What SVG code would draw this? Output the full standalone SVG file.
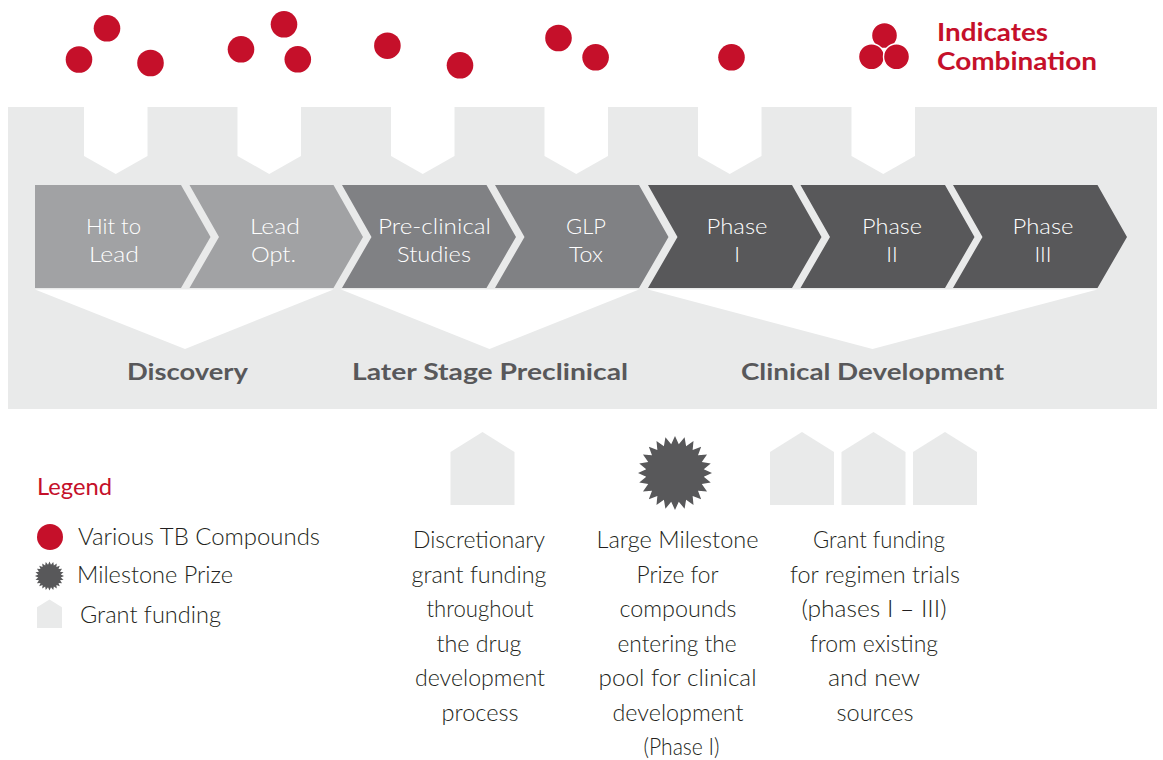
<svg xmlns="http://www.w3.org/2000/svg" xmlns:xlink="http://www.w3.org/1999/xlink" width="1163" height="760" viewBox="0 0 1163 760">
<style>
.band{fill:#e9eaea}
.wh{fill:#ffffff}
.red{fill:#c5102a}
.c1{fill:#a1a2a4}
.c2{fill:#808184}
.c3{fill:#58585a}
.star{fill:#58585a}
.house{fill:#e9eaea}
.cl{font-family:Lato,"Liberation Sans",sans-serif;font-weight:300;font-size:22px;fill:#ffffff;text-anchor:middle}
.st{font-family:Lato,"Liberation Sans",sans-serif;font-weight:700;font-size:23px;fill:#58585a;text-anchor:middle}
.ind{font-family:Lato,"Liberation Sans",sans-serif;font-weight:700;font-size:25px;fill:#c5102a}
.lg{font-family:Lato,"Liberation Sans",sans-serif;font-weight:300;font-size:24px;fill:#231f20}
.lgh{font-family:Lato,"Liberation Sans",sans-serif;font-weight:400;font-size:24px;fill:#c5102a}
.bd{font-family:Lato,"Liberation Sans",sans-serif;font-weight:300;font-size:23px;fill:#231f20;text-anchor:middle}
</style>
<defs>
<polygon id="starShape" points="37,0 28.75,3.79 35.74,9.58 26.79,11.1 32.04,18.5 23.01,17.65 26.16,26.16 17.65,23.01 18.5,32.04 11.1,26.79 9.58,35.74 3.79,28.75 0,37 -3.79,28.75 -9.58,35.74 -11.1,26.79 -18.5,32.04 -17.65,23.01 -26.16,26.16 -23.01,17.65 -32.04,18.5 -26.79,11.1 -35.74,9.58 -28.75,3.79 -37,0 -28.75,-3.79 -35.74,-9.58 -26.79,-11.1 -32.04,-18.5 -23.01,-17.65 -26.16,-26.16 -17.65,-23.01 -18.5,-32.04 -11.1,-26.79 -9.58,-35.74 -3.79,-28.75 0,-37 3.79,-28.75 9.58,-35.74 11.1,-26.79 18.5,-32.04 17.65,-23.01 26.16,-26.16 23.01,-17.65 32.04,-18.5 26.79,-11.1 35.74,-9.58 28.75,-3.79"/>
<polygon id="houseShape" points="0,20 32,0 64,20 64,73 0,73"/>
<polygon id="notchShape" points="0,0 63.5,0 63.5,49 31.75,67 0,49"/>
</defs>

<g id="background">
<rect class="band" x="8" y="107" width="1149" height="302"/>
<use href="#notchShape" class="wh" x="84" y="107"/>
<use href="#notchShape" class="wh" x="237.5" y="107"/>
<use href="#notchShape" class="wh" x="391" y="107"/>
<use href="#notchShape" class="wh" x="544.5" y="107"/>
<use href="#notchShape" class="wh" x="698" y="107"/>
<use href="#notchShape" class="wh" x="851.5" y="107"/>
</g>

<g id="connectors">
<polygon class="wh" points="35,289.5 333.5,289.5 185,349"/>
<polygon class="wh" points="341,289.5 639,289.5 489.5,349"/>
<polygon class="wh" points="648,289.5 1097.5,289.5 872.5,349"/>
</g>

<g id="compounds">
<circle class="red" cx="79" cy="59.5" r="13.3"/>
<circle class="red" cx="107" cy="28.3" r="13.3"/>
<circle class="red" cx="150.5" cy="63" r="13.3"/>
<circle class="red" cx="241" cy="49.3" r="13.3"/>
<circle class="red" cx="284" cy="24.3" r="13.3"/>
<circle class="red" cx="297.8" cy="59.3" r="13.3"/>
<circle class="red" cx="387.4" cy="45.7" r="13.3"/>
<circle class="red" cx="460" cy="65.3" r="13.3"/>
<circle class="red" cx="558.5" cy="38" r="13.3"/>
<circle class="red" cx="595.6" cy="57.3" r="13.3"/>
<circle class="red" cx="731.5" cy="57.3" r="13.3"/>
</g>

<g id="combination">
<circle class="red" cx="884.5" cy="35.5" r="13" stroke="#ffffff" stroke-width="1.4"/>
<circle class="red" cx="871.5" cy="56.7" r="13" stroke="#ffffff" stroke-width="1.4"/>
<circle class="red" cx="896.5" cy="56.7" r="13" stroke="#ffffff" stroke-width="1.4"/>
<text class="ind" x="937" y="41" textLength="111" lengthAdjust="spacingAndGlyphs">Indicates</text>
<text class="ind" x="937" y="70" textLength="160" lengthAdjust="spacingAndGlyphs">Combination</text>
</g>

<g id="chevron-hit-to-lead">
<polygon class="c1" points="35,185 181,185 210.5,237 181,288 35,288"/>
<text class="cl" x="113.5" y="234" textLength="55" lengthAdjust="spacingAndGlyphs">Hit to</text>
<text class="cl" x="114" y="262" textLength="50" lengthAdjust="spacingAndGlyphs">Lead</text>
</g>
<g id="chevron-lead-opt">
<polygon class="c1" points="189.5,185 333.5,185 363,237 333.5,288 189.5,288 219,237"/>
<text class="cl" x="275" y="234" textLength="50" lengthAdjust="spacingAndGlyphs">Lead</text>
<text class="cl" x="273.5" y="262" textLength="45" lengthAdjust="spacingAndGlyphs">Opt.</text>
</g>
<g id="chevron-preclinical">
<polygon class="c2" points="342,185 486.5,185 516,237 486.5,288 342,288 371.5,237"/>
<text class="cl" x="434.5" y="234" textLength="113" lengthAdjust="spacingAndGlyphs">Pre-clinical</text>
<text class="cl" x="434" y="262" textLength="74" lengthAdjust="spacingAndGlyphs">Studies</text>
</g>
<g id="chevron-glp-tox">
<polygon class="c2" points="495,185 639,185 668.5,237 639,288 495,288 524.5,237"/>
<text class="cl" x="586" y="234" textLength="40" lengthAdjust="spacingAndGlyphs">GLP</text>
<text class="cl" x="586" y="262" textLength="34" lengthAdjust="spacingAndGlyphs">Tox</text>
</g>
<g id="chevron-phase-1">
<polygon class="c3" points="648,185 792,185 821.5,237 792,288 648,288 677.5,237"/>
<text class="cl" x="737" y="234" textLength="61" lengthAdjust="spacingAndGlyphs">Phase</text>
<text class="cl" x="737" y="262">I</text>
</g>
<g id="chevron-phase-2">
<polygon class="c3" points="800.5,185 945,185 974.5,237 945,288 800.5,288 830,237"/>
<text class="cl" x="892" y="234" textLength="60" lengthAdjust="spacingAndGlyphs">Phase</text>
<text class="cl" x="892" y="262">II</text>
</g>
<g id="chevron-phase-3">
<polygon class="c3" points="953,185 1097.5,185 1127,237 1097.5,288 953,288 982.5,237"/>
<text class="cl" x="1043" y="234" textLength="61" lengthAdjust="spacingAndGlyphs">Phase</text>
<text class="cl" x="1043" y="262">III</text>
</g>

<g id="stage-discovery">
<text class="st" x="187.5" y="380" textLength="121" lengthAdjust="spacingAndGlyphs">Discovery</text>
</g>
<g id="stage-later-preclinical">
<text class="st" x="490" y="380" textLength="276" lengthAdjust="spacingAndGlyphs">Later Stage Preclinical</text>
</g>
<g id="stage-clinical">
<text class="st" x="872.5" y="380" textLength="263" lengthAdjust="spacingAndGlyphs">Clinical Development</text>
</g>

<g id="legend">
<text class="lgh" x="37" y="495" textLength="75" lengthAdjust="spacingAndGlyphs">Legend</text>
<circle class="red" cx="50" cy="537" r="13"/>
<text class="lg" x="78" y="545" textLength="242" lengthAdjust="spacingAndGlyphs">Various TB Compounds</text>
<use href="#starShape" class="star" transform="translate(49.5,576) scale(0.392)"/>
<text class="lg" x="77" y="583" textLength="156" lengthAdjust="spacingAndGlyphs">Milestone Prize</text>
<use href="#houseShape" class="house" transform="translate(37,599.5) scale(0.39)"/>
<text class="lg" x="80" y="623" textLength="141" lengthAdjust="spacingAndGlyphs">Grant funding</text>
</g>

<g id="discretionary-grant">
<use href="#houseShape" class="house" x="450.5" y="432"/>
<text class="bd" x="479" y="548" textLength="132" lengthAdjust="spacingAndGlyphs">Discretionary</text>
<text class="bd" x="479" y="582.5" textLength="135" lengthAdjust="spacingAndGlyphs">grant funding</text>
<text class="bd" x="480" y="617" textLength="107" lengthAdjust="spacingAndGlyphs">throughout</text>
<text class="bd" x="479" y="651.5" textLength="85" lengthAdjust="spacingAndGlyphs">the drug</text>
<text class="bd" x="480" y="686" textLength="130" lengthAdjust="spacingAndGlyphs">development</text>
<text class="bd" x="480" y="720.5" textLength="77" lengthAdjust="spacingAndGlyphs">process</text>
</g>

<g id="milestone-prize">
<use href="#starShape" class="star" transform="translate(675,473)"/>
<text class="bd" x="677.5" y="548" textLength="162" lengthAdjust="spacingAndGlyphs">Large Milestone</text>
<text class="bd" x="677.5" y="582.5" textLength="82" lengthAdjust="spacingAndGlyphs">Prize for</text>
<text class="bd" x="678" y="617" textLength="117" lengthAdjust="spacingAndGlyphs">compounds</text>
<text class="bd" x="677" y="651.5" textLength="119" lengthAdjust="spacingAndGlyphs">entering the</text>
<text class="bd" x="677.5" y="686" textLength="158" lengthAdjust="spacingAndGlyphs">pool for clinical</text>
<text class="bd" x="678" y="720.5" textLength="131" lengthAdjust="spacingAndGlyphs">development</text>
<text class="bd" x="681.5" y="755" textLength="76" lengthAdjust="spacingAndGlyphs">(Phase I)</text>
</g>

<g id="regimen-grants">
<use href="#houseShape" class="house" x="770" y="432"/>
<use href="#houseShape" class="house" x="841.5" y="432"/>
<use href="#houseShape" class="house" x="913" y="432"/>
<text class="bd" x="879" y="548" textLength="132" lengthAdjust="spacingAndGlyphs">Grant funding</text>
<text class="bd" x="875" y="582.5" textLength="170" lengthAdjust="spacingAndGlyphs">for regimen trials</text>
<text class="bd" x="874" y="617" textLength="145" lengthAdjust="spacingAndGlyphs">(phases I – III)</text>
<text class="bd" x="874" y="651.5" textLength="128" lengthAdjust="spacingAndGlyphs">from existing</text>
<text class="bd" x="874" y="686" textLength="92" lengthAdjust="spacingAndGlyphs">and new</text>
<text class="bd" x="875" y="720.5" textLength="77" lengthAdjust="spacingAndGlyphs">sources</text>
</g>
</svg>
